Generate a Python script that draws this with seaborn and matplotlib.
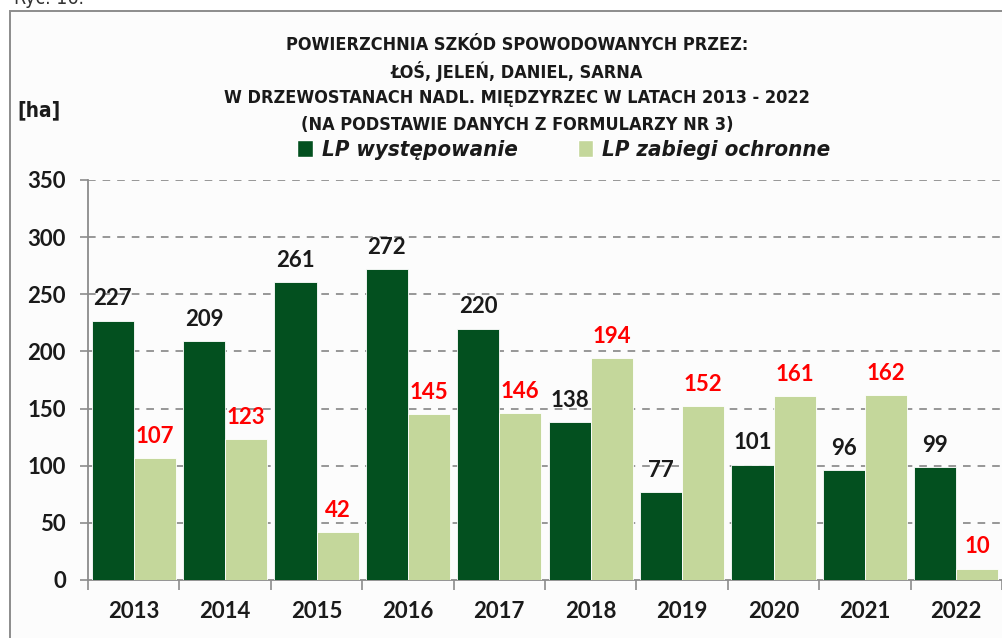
import matplotlib
matplotlib.use("Agg")
import matplotlib.pyplot as plt
from matplotlib import font_manager
from matplotlib.patches import Rectangle, Patch
from matplotlib.ticker import FixedLocator, NullFormatter
import seaborn as sns
import pandas as pd

# Data
years = ["2013", "2014", "2015", "2016", "2017", "2018", "2019", "2020", "2021", "2022"]
wystepowanie = [227, 209, 261, 272, 220, 138, 77, 101, 96, 99]
zabiegi = [107, 123, 42, 145, 146, 194, 152, 161, 162, 10]
series_names = ["LP występowanie", "LP zabiegi ochronne"]
title_lines = [
    "POWIERZCHNIA SZKÓD SPOWODOWANYCH PRZEZ:",
    "ŁOŚ, JELEŃ, DANIEL, SARNA",
    "W DRZEWOSTANACH NADL. MIĘDZYRZEC W LATACH 2013 - 2022",
    "(NA PODSTAWIE DANYCH Z FORMULARZY NR 3)",
]

DARK = "#03501f"
LIGHT = "#c4d79b"

sns.set_theme(style="white")
available = {f.name for f in font_manager.fontManager.ttflist}
main = "Lato" if "Lato" in available else "DejaVu Sans"
plt.rcParams["font.family"] = [main, "DejaVu Sans"]
plt.rcParams["lines.scale_dashes"] = False
NARROW = dict(family=["DejaVu Sans"], fontstretch="condensed")

df = pd.DataFrame({
    "rok": years * 2,
    "ha": wystepowanie + zabiegi,
    "seria": [series_names[0]] * len(years) + [series_names[1]] * len(years),
})

fig = plt.figure(figsize=(10.03, 6.38), dpi=100)
fig.patch.set_facecolor("white")

# outer frame of the figure panel
frame = Rectangle((10 / 1003, -0.05), 1.2, 1 - 11 / 638 + 0.05, transform=fig.transFigure,
                  facecolor="#fcfcfc", edgecolor="#8c8c8c", linewidth=1.4, zorder=-5)
fig.patches.append(frame)
fig.text(14 / 1003, 1 - 4 / 638, "Ryc. 16.", fontsize=14, color="#333333",
         ha="left", va="baseline", **NARROW)

ax = fig.add_axes([88 / 1003, 1 - 580 / 638, (1002 - 88) / 1003, 400 / 638])
ax.set_facecolor("none")

sns.barplot(data=df, x="rok", y="ha", hue="seria", palette=[DARK, LIGHT],
            width=0.92, edgecolor="white", linewidth=0.6, saturation=1,
            legend=False, ax=ax, zorder=3)

ax.set_ylim(0, 350)
ax.set_xlim(-0.5, len(years) - 0.5)
ax.set_yticks(range(0, 351, 50))
ax.set_xlabel("")
ax.set_ylabel("")

# dashed horizontal grid
for v in range(50, 351, 50):
    ax.axhline(v, color="#8f8f8f", linewidth=1.3, linestyle=(0, (5.5, 5)), zorder=1)

for s in ["top", "right"]:
    ax.spines[s].set_visible(False)
for s in ["left", "bottom"]:
    ax.spines[s].set_color("#8c8c8c")
    ax.spines[s].set_linewidth(1.3)

ax.tick_params(axis="y", which="major", direction="out", length=6, width=1.2,
               color="#8c8c8c", labelsize=16, pad=10, left=True)
ax.tick_params(axis="x", which="major", length=0, labelsize=16, pad=15)
ax.xaxis.set_minor_locator(FixedLocator([i - 0.5 for i in range(len(years) + 1)]))
ax.xaxis.set_minor_formatter(NullFormatter())
ax.tick_params(axis="x", which="minor", direction="out", length=7, width=1.2,
               color="#8c8c8c", bottom=True)
for lab in ax.get_xticklabels() + ax.get_yticklabels():
    lab.set_fontweight("bold")
    lab.set_color("#1a1a1a")

# value labels above the bars
label_colors = ["#1a1a1a", "#ff0000"]
for cont, col in zip(ax.containers, label_colors):
    ax.bar_label(cont, labels=[f"{int(b.get_height())}" for b in cont], padding=8,
                 fontsize=16, fontweight="bold", color=col, zorder=5)

# title
for i, line in enumerate(title_lines):
    fig.text(517 / 1003, 1 - (45 + 26.5 * i) / 638, line, ha="center", va="center",
             fontsize=13, fontweight="bold", color="#1a1a1a", **NARROW)

fig.text(17 / 1003, 1 - 110 / 638, "[ha]", ha="left", va="center", fontsize=15,
         fontweight="bold", color="#1a1a1a", **NARROW)

handles = [Patch(facecolor=DARK), Patch(facecolor=LIGHT)]
leg = fig.legend(handles, series_names, loc="center", bbox_to_anchor=(564 / 1003, 1 - 150 / 638),
                 ncol=2, frameon=False, handlelength=0.7, handleheight=0.85,
                 handletextpad=0.4, columnspacing=2.7,
                 prop={"family": ["DejaVu Sans"], "stretch": "condensed", "size": 16,
                       "weight": "bold", "style": "italic"})
for t in leg.get_texts():
    t.set_color("#1a1a1a")

fig.savefig("out.png", dpi=100)
